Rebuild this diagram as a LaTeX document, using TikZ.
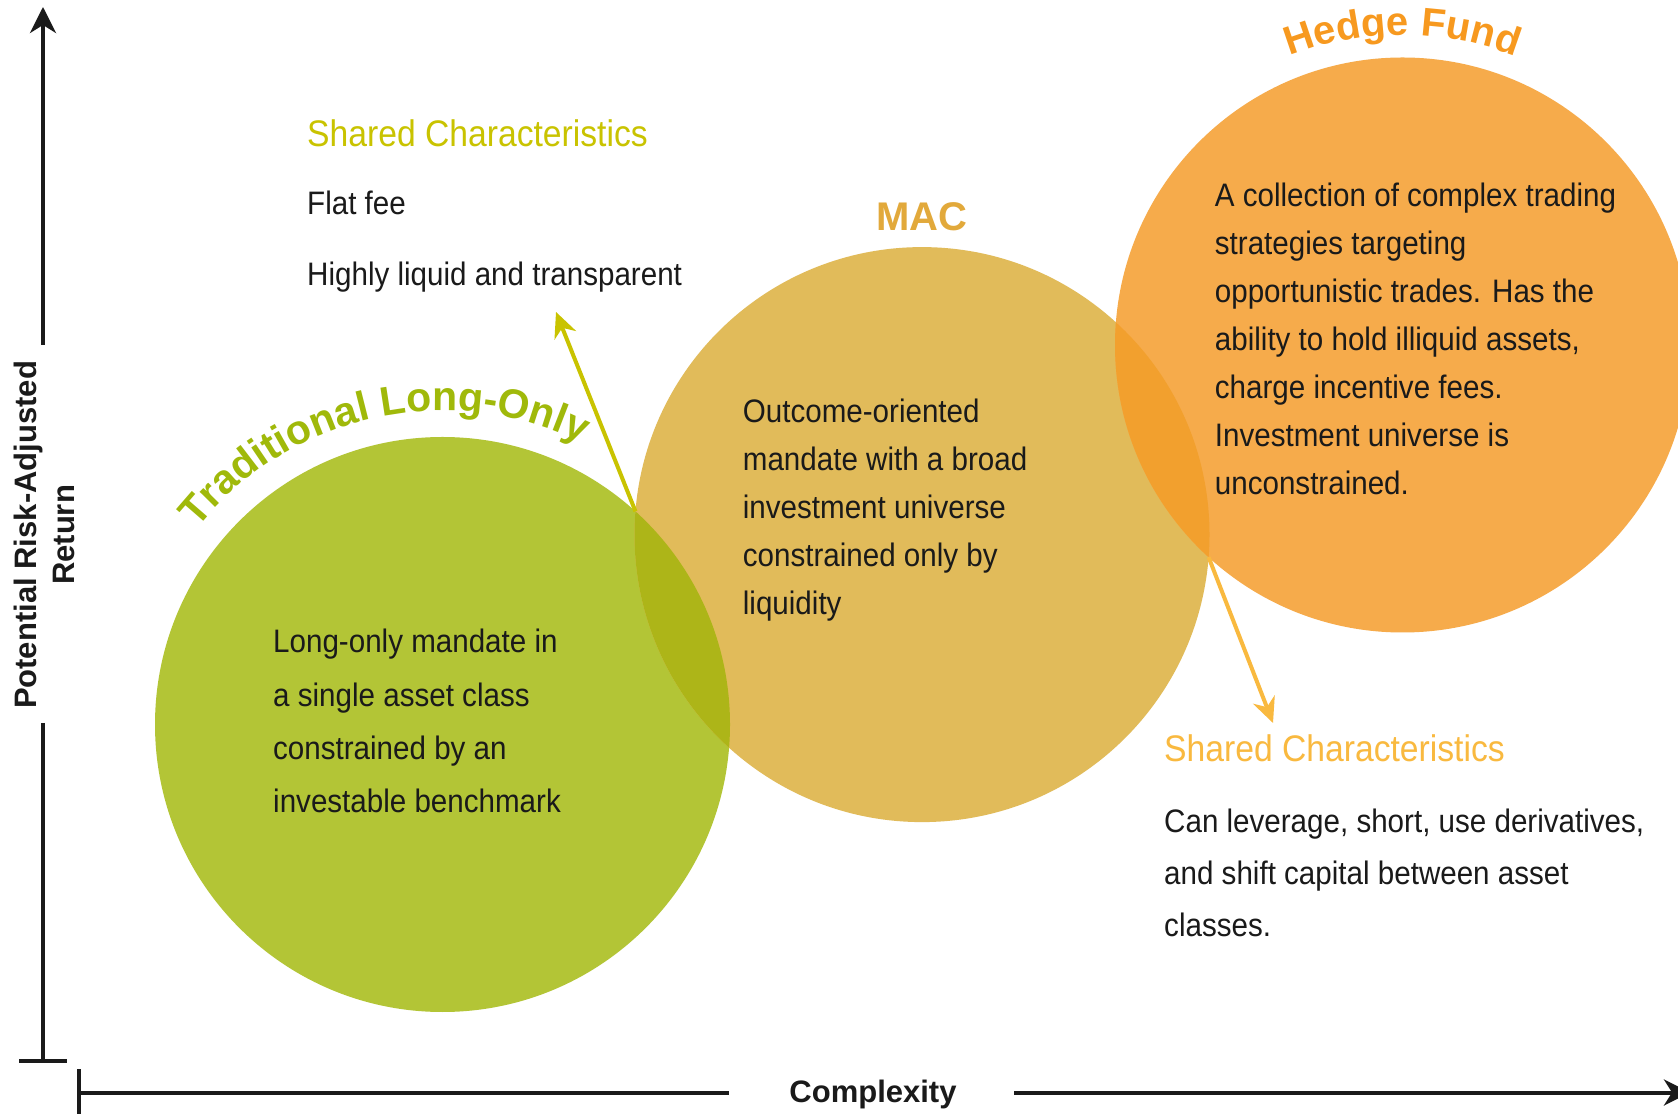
\documentclass[tikz,border=0pt]{standalone}
\usepackage{fontspec}
\setmainfont{Liberation Sans}
\newfontfamily\narrowfont{Liberation Sans}[FakeStretch=0.91]
\usetikzlibrary{arrows.meta,decorations.text,calc}
\definecolor{cgreen}{HTML}{B3C536}
\definecolor{cmac}{HTML}{E1BB5A}
\definecolor{chedge}{HTML}{F6AB4B}
\definecolor{cgm}{HTML}{ADB518}
\definecolor{cmh}{HTML}{F2A02E}
\definecolor{ctlo}{HTML}{A0B90A}
\definecolor{chf}{HTML}{F7991F}
\definecolor{cmaclbl}{HTML}{E2A93B}
\definecolor{cshtop}{HTML}{C9C300}
\definecolor{cshbot}{HTML}{F9B93F}
\definecolor{ctext}{HTML}{1A1A1A}
\tikzset{
  body/.style={anchor=base west, align=left, inner sep=0pt, text=ctext},
  shtitle/.style={anchor=base west, inner sep=0pt, font=\narrowfont\fontsize{37}{40}\selectfont},
  axisline/.style={draw=ctext, line width=4pt},
  axislbl/.style={inner sep=0pt, text=ctext, font=\bfseries\fontsize{31}{38}\selectfont},
  bigarrow/.style={line width=4pt, -{Stealth[length=25pt,width=23pt,inset=8pt]}},
}
\begin{document}
\begin{tikzpicture}[x=1pt,y=1pt]
\useasboundingbox (0,0) rectangle (1678,1114);
\fill[white] (0,0) rectangle (1678,1114);

% circle centres
\coordinate (Gc) at (442.5,389.5);
\coordinate (Mc) at (922,579.4);
\coordinate (Hc) at (1402.5,769);

\fill[cgreen] (Gc) circle (287.5);
\fill[cmac] (Mc) circle (287.5);
\fill[chedge] (Hc) circle (287.5);
\begin{scope}
  \clip (Gc) circle (287.5);
  \fill[cgm] (Mc) circle (287.5);
\end{scope}
\begin{scope}
  \clip (Mc) circle (287.5);
  \fill[cmh] (Hc) circle (287.5);
\end{scope}

% curved titles
\path[decorate, decoration={text along path, text align=center,
  text={|\color{ctlo}\bfseries\fontsize{41}{41}\selectfont|Traditional Long-Only}}]
  ($(Gc)+(160:314)$) arc (160:45:314);
\path[decorate, decoration={text along path, text align=center,
  text={|\color{chf}\bfseries\fontsize{40}{40}\selectfont|Hedge Fund}}]
  ($(Hc)+(140:310)$) arc (140:40:310);

\node[inner sep=0pt, anchor=base, text=cmaclbl, font=\bfseries\fontsize{40}{40}\selectfont] (maclbl) at (922,883) {MAC};

% body texts (anchor = baseline of the last line)
\node[body, font=\narrowfont\fontsize{32.5}{53.2}\selectfont] (gtext) at (273,301.4)
  {Long-only mandate in\\a single asset class\\constrained by an\\investable benchmark};
\node[body, font=\narrowfont\fontsize{32.5}{47.9}\selectfont] (mtext) at (742.7,499.4)
  {Outcome-oriented\\mandate with a broad\\investment universe\\constrained only by\\liquidity};
\node[body, font=\narrowfont\fontsize{32.5}{48}\selectfont] (htext) at (1214.7,619)
  {A collection of complex trading\\strategies targeting\\opportunistic trades. Has the\\ability to hold illiquid assets,\\charge incentive fees.\\Investment universe is\\unconstrained.};

% shared characteristics (top)
\node[shtitle, text=cshtop] (sh1) at (307,967) {Shared Characteristics};
\node[body, font=\narrowfont\fontsize{32.5}{71}\selectfont] (sh1body) at (307,828)
  {Flat fee\\Highly liquid and transparent};

% shared characteristics (bottom)
\node[shtitle, text=cshbot] (sh2) at (1164,352) {Shared Characteristics};
\node[body, font=\narrowfont\fontsize{32.5}{52.4}\selectfont] (sh2body) at (1164,177.2)
  {Can leverage, short, use derivatives,\\and shift capital between asset\\classes.};

% connectors
\coordinate (gmtop) at (635.45,602.6);
\coordinate (tip1) at (556,802);
\coordinate (mhbot) at (1208.6,556.8);
\coordinate (tip2) at (1273,391);
\draw[bigarrow, cshtop] (gmtop) -- (tip1);
\draw[bigarrow, cshbot] (mhbot) -- (tip2);

% axes
\coordinate (ytop) at (43,1107);
\coordinate (ygap1) at (43,769);
\coordinate (ygap2) at (43,391);
\coordinate (ybot) at (43,53);
\coordinate (ybarl) at (19,53);
\coordinate (ybarr) at (67,53);
\coordinate (xleft) at (79,21.5);
\coordinate (xgap1) at (729,21.5);
\coordinate (xgap2) at (1014,21.5);
\coordinate (xright) at (1690,21.5);
\coordinate (xbart) at (79,45);
\coordinate (xbarb) at (79,0);
\draw[axisline, -{Stealth[length=26pt,width=26pt,inset=8pt]}] (ygap1) -- (ytop);
\draw[axisline] (ygap2) -- (ybot);
\draw[axisline] (ybarl) -- (ybarr);
\draw[axisline] (xleft) -- (xgap1);
\draw[axisline, -{Stealth[length=26pt,width=26pt,inset=8pt]}] (xgap2) -- (xright);
\draw[axisline] (xbart) -- (xbarb);

\node[axislbl, rotate=90, align=center] (ylab) at (44,579) {Potential Risk-Adjusted\\Return};
\node[axislbl, anchor=base] (xlab) at (873,11.3) {Complexity};
\end{tikzpicture}
\end{document}
